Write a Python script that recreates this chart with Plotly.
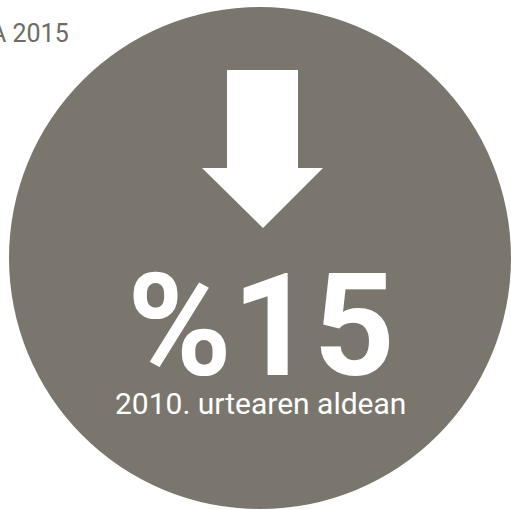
import plotly.graph_objects as go

# data
change_pct = [15]
base_year = ["2010"]
title_year = ["2015"]
subtitle_words = ["urtearen aldean"]

W, H = 511, 510
GREY = "#7a766e"
FONT = "Roboto, sans-serif"

fig = go.Figure()

# big circle
fig.add_shape(type="circle", xref="x", yref="y",
              x0=9, x1=511, y0=7, y1=509,
              fillcolor=GREY, line=dict(width=0), layer="below")

# down arrow
arrow = "M 227 70 L 298 70 L 298 168 L 323 168 L 263 228 L 202 168 L 227 168 Z"
fig.add_shape(type="path", xref="x", yref="y", path=arrow,
              fillcolor="white", line=dict(width=0))

fig.add_annotation(x=260.5, y=326, xref="x", yref="y",
                   text="%" + str(change_pct[0]), showarrow=False,
                   xanchor="center", yanchor="middle",
                   font=dict(family=FONT, size=142, color="white", weight="bold"))

fig.add_annotation(x=260.5, y=403, xref="x", yref="y",
                   text=base_year[0] + ". " + subtitle_words[0], showarrow=False,
                   xanchor="center", yanchor="middle",
                   font=dict(family=FONT, size=30, color="white"))

fig.add_annotation(x=71, y=33, xref="x", yref="y",
                   text="A " + title_year[0], showarrow=False,
                   xanchor="right", yanchor="middle",
                   font=dict(family=FONT, size=25, color="#706c65"))

fig.update_layout(width=W, height=H, margin=dict(l=0, r=0, t=0, b=0),
                  paper_bgcolor="white", plot_bgcolor="white",
                  showlegend=False,
                  xaxis=dict(range=[0, W], visible=False, fixedrange=True),
                  yaxis=dict(range=[H, 0], visible=False, fixedrange=True))

fig.write_html("out.html", config={"displayModeBar": False},
               post_script="document.body.style.margin='0';"
                           "document.body.style.overflow='hidden';")
